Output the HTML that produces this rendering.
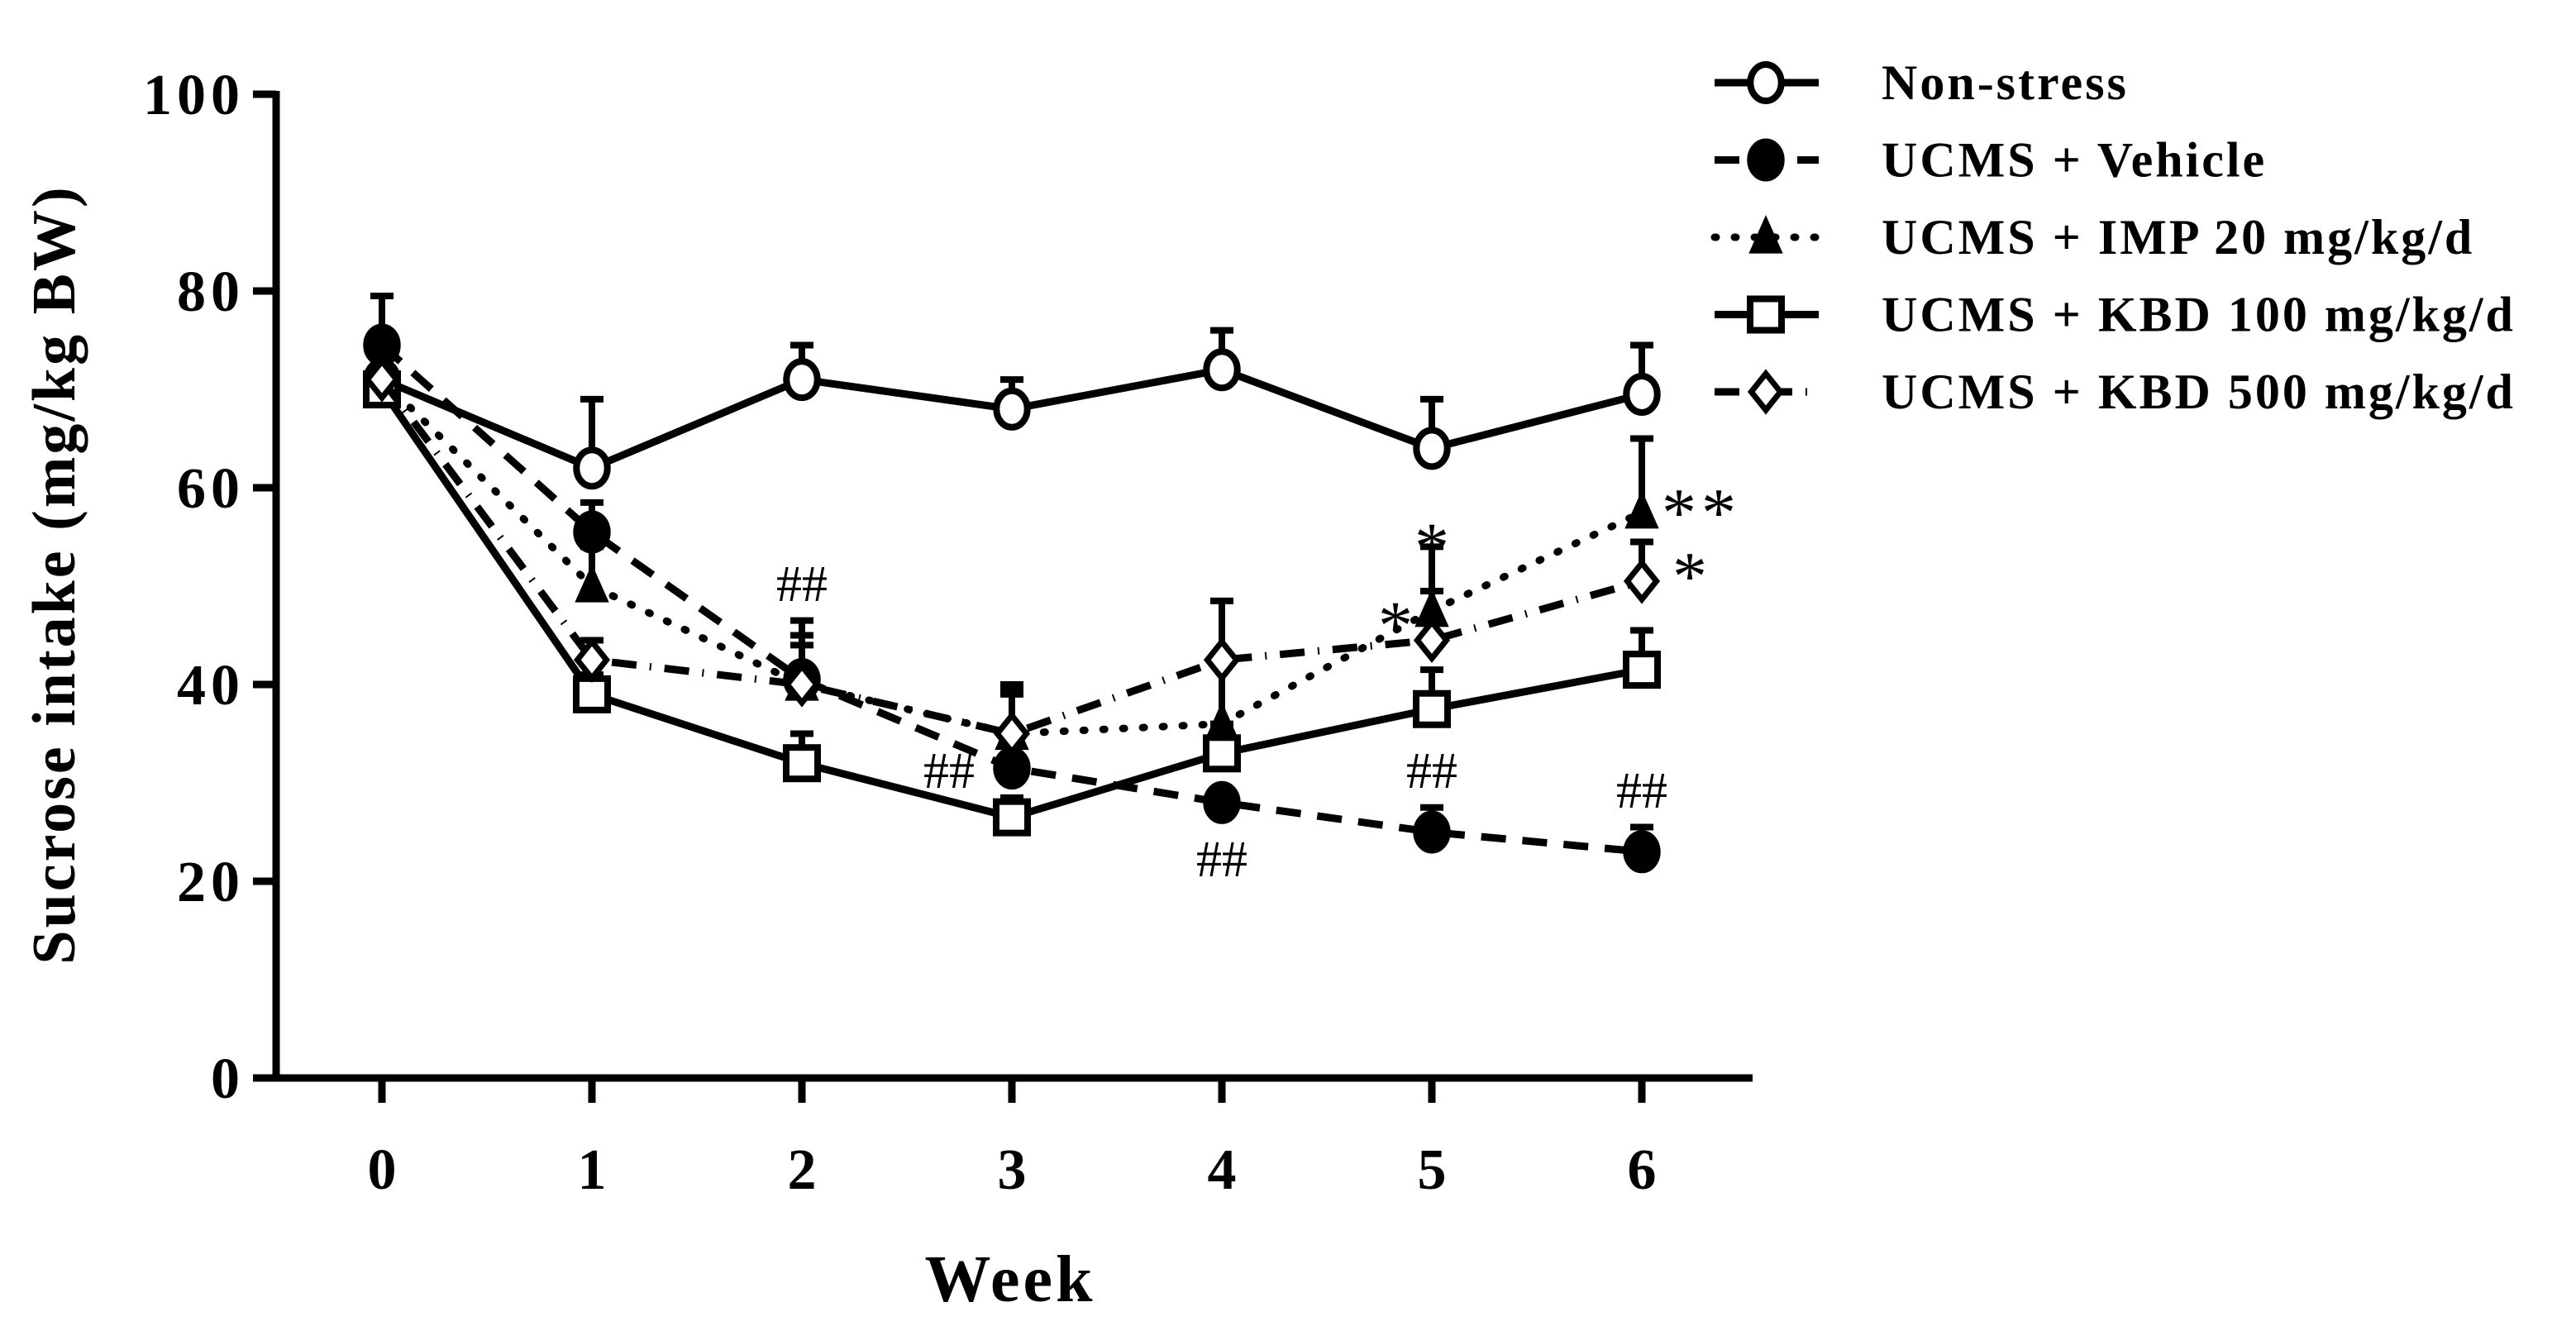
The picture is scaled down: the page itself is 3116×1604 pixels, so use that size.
<!DOCTYPE html>
<html><head><meta charset="utf-8"><style>
html,body{margin:0;padding:0;background:#fff;}
svg{display:block;font-family:"Liberation Serif",serif;font-weight:bold;}
</style></head><body>
<svg id="chart" width="3116" height="1604" viewBox="0 0 3116 1604" xmlns="http://www.w3.org/2000/svg">
<g id="axes"></g><g id="series"></g><g id="annot"></g><g id="legend"></g>
</svg>
<script>
const weeks = [0,1,2,3,4,5,6];
const yTicks = [0,20,40,60,80,100];
const seriesNames = ["Non-stress","UCMS + Vehicle","UCMS + IMP 20 mg/kg/d","UCMS + KBD 100 mg/kg/d","UCMS + KBD 500 mg/kg/d"];
const nonStress = [71,62,71,68,72,64,69.5];
const nonStressErr = [3,7,3.5,3,4,5,5];
const vehicle = [74.5,55.5,40.5,31.5,28,25,23];
const vehicleErr = [5,3,6,8,1,2.5,2.5];
const imp = [71,50,40,35,36,47.5,57.5];
const impErr = [3,4,5,4,6,6.5,7.5];
const kbd100 = [70,39,32,26.5,33,37.5,41.5];
const kbd100Err = [2,2,3,2,3,4,4];
const kbd500 = [71,42.5,40,35,42.5,44.5,50.5];
const kbd500Err = [2,2,4,5,6,5,4];
const annotations = [
 {w:2,v:48.5,t:"##"},{w:3,v:29.5,t:"##",dx:-76},{w:4,v:20.5,t:"##"},{w:5,v:29.5,t:"##"},{w:6,v:27.5,t:"##"},
 {w:5,v:55,t:"*"},{w:5,v:47,t:"*",dx:-44},{w:6,v:58.5,t:"**",dx:72},{w:6,v:52,t:"*",dx:58}
];
const NS="http://www.w3.org/2000/svg";
const X0=462, XS=254, Y0=1304, YS=11.9;
const xs=w=>X0+w*XS, ys=v=>Y0-v*YS;
function mk(tag,attrs,parent){const e=document.createElementNS(NS,tag);for(const k in attrs)e.setAttribute(k,attrs[k]);parent.appendChild(e);return e;}
const axes=document.getElementById('axes');
const a1=mk('line',{x1:334,y1:ys(100)-4,x2:334,y2:Y0+4,stroke:'#000','stroke-width':9},axes);


const a2=mk('line',{x1:330,y1:Y0,x2:2120,y2:Y0,stroke:'#000','stroke-width':9},axes);


yTicks.forEach(v=>{
 mk('line',{x1:306,y1:ys(v),x2:334,y2:ys(v),stroke:'#000','stroke-width':9},axes);
 const t=mk('text',{x:296,y:ys(v)+24,'text-anchor':'end','font-size':70,'letter-spacing':6},axes);t.textContent=v;
 
 
});
weeks.forEach(w=>{
 mk('line',{x1:xs(w),y1:Y0,x2:xs(w),y2:Y0+30,stroke:'#000','stroke-width':9},axes);
 const t=mk('text',{x:xs(w),y:1438,'text-anchor':'middle','font-size':70},axes);t.textContent=w;
 
 
});
const xt=mk('text',{x:1222,y:1574,'text-anchor':'middle','font-size':80,'letter-spacing':4},axes);xt.textContent="Week";


const yt=mk('text',{x:0,y:0,'text-anchor':'middle','font-size':74,'letter-spacing':3,transform:'translate(90,695) rotate(-90)'},axes);yt.textContent="Sucrose intake (mg/kg BW)";



const styles=[
 {vals:nonStress,err:nonStressErr,dash:'',marker:'circle',fill:'#fff'},
 {vals:vehicle,err:vehicleErr,dash:'30 20',marker:'circle',fill:'#000'},
 {vals:imp,err:impErr,dash:'2 22',marker:'tri',fill:'#000'},
 {vals:kbd100,err:kbd100Err,dash:'',marker:'square',fill:'#fff'},
 {vals:kbd500,err:kbd500Err,dash:'30 16 2 16',marker:'diamond',fill:'#fff'}
];
function marker(g,type,x,y,fill,s){
 let e;
 if(type==='circle') e=mk('ellipse',{cx:x,cy:y,rx:s*0.85,ry:s,fill,stroke:'#000','stroke-width':8},g);
 else if(type==='square') e=mk('rect',{x:x-s,y:y-s,width:2*s,height:2*s,fill,stroke:'#000','stroke-width':8},g);
 else if(type==='tri') e=mk('polygon',{points:`${x},${y-s} ${x+s*0.8},${y+s*0.8} ${x-s*0.8},${y+s*0.8}`,fill,stroke:'#000','stroke-width':4},g);
 else e=mk('polygon',{points:`${x},${y-s} ${x+s*0.8},${y} ${x},${y+s} ${x-s*0.8},${y}`,fill,stroke:'#000','stroke-width':7},g);
 return e;
}
const sg=document.getElementById('series');
styles.forEach((s,i)=>{
 const g=mk('g',{},sg);
 
 
 const pts=s.vals.map((v,j)=>xs(weeks[j])+','+ys(v)).join(' ');
 const pl=mk('polyline',{points:pts,fill:'none',stroke:'#000','stroke-width':9,'stroke-dasharray':s.dash,'stroke-linecap':s.marker==='tri'?'round':'butt'},g);
 
 
 s.vals.forEach((v,j)=>{
  const x=xs(weeks[j]),y=ys(v),ye=ys(v+s.err[j]);
  const eb=mk('line',{x1:x,y1:y,x2:x,y2:ye,stroke:'#000','stroke-width':8},g);
  
  
  mk('line',{x1:x-14,y1:ye,x2:x+14,y2:ye,stroke:'#000','stroke-width':8},g);
  const m=marker(g,s.marker,x,y,s.fill,s.marker==='square'?19:22);
  
  
 });
});
const ag=document.getElementById('annot');
annotations.forEach(a=>{
 const t=mk('text',{x:xs(a.w)+(a.dx||0),y:ys(a.v)+(a.t==='##'?0:40),'text-anchor':'middle','font-size':a.t==='##'?62:84,'font-weight':'normal','letter-spacing':a.t==='**'?6:0},ag);
 t.textContent=a.t;
 
 
});
const lg=document.getElementById('legend');
seriesNames.forEach((n,i)=>{
 const y=100+i*93.5, s=styles[i];
 const g=mk('g',{},lg);
 
 
 mk('line',{x1:2074,y1:y,x2:2200,y2:y,stroke:'#000','stroke-width':9,'stroke-dasharray':s.dash,'stroke-linecap':s.marker==='tri'?'round':'butt'},g);
 marker(g,s.marker,2136,y,s.fill,s.marker==='square'?19:22);
 const t=mk('text',{x:2276,y:y+20,'font-size':60,'letter-spacing':3},g);t.textContent=n;
});
</script>
</body></html>
